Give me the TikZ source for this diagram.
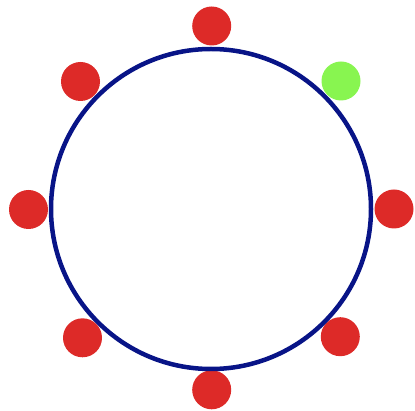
\documentclass[tikz,border=0pt]{standalone}
\definecolor{dotred}{RGB}{221,42,40}
\definecolor{dotgreen}{RGB}{136,245,80}
\definecolor{ringblue}{RGB}{8,20,135}
\tikzset{
  ring/.style={circle, draw=ringblue, line width=4.5pt, minimum size=320pt, inner sep=0pt},
  reddot/.style={circle, fill=dotred, minimum size=39pt, inner sep=0pt},
  greendot/.style={circle, fill=dotgreen, minimum size=39pt, inner sep=0pt}
}
\begin{document}
\begin{tikzpicture}[x=1pt,y=-1pt]
\useasboundingbox (0,0) rectangle (415,411);
\node[reddot] (top) at (211.7,26) {};
\node[reddot] (topleft) at (80.5,81.5) {};
\node[greendot] (topright) at (341,81) {};
\node[reddot] (left) at (28.5,209.5) {};
\node[reddot] (right) at (394,209) {};
\node[reddot] (bottomleft) at (82.5,337.8) {};
\node[reddot] (bottomright) at (340.3,336.7) {};
\node[reddot] (bottom) at (211.7,389.8) {};
\node[ring] (R) at (211,209) {};
\end{tikzpicture}
\end{document}
